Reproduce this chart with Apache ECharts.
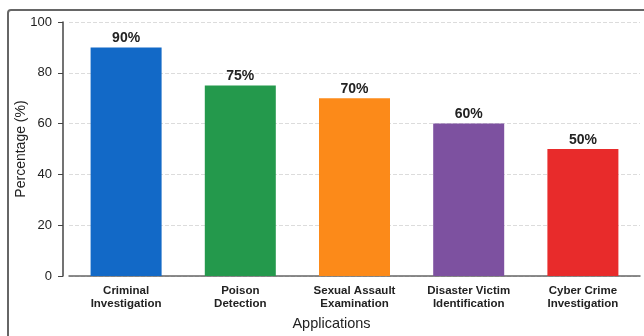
<!DOCTYPE html>
<html>
<head>
<meta charset="utf-8">
<script src="https://cdn.jsdelivr.net/npm/echarts@6/dist/echarts.min.js"></script>
<style>
html,body{margin:0;padding:0;background:#fff;}
#wrap{position:relative;width:644px;height:336px;overflow:hidden;}
#frame{position:absolute;left:7px;top:9px;width:700px;height:400px;border:2px solid #666;border-radius:4px;box-sizing:border-box;}
#chart{position:absolute;left:0;top:0;width:644px;height:336px;}
</style>
</head>
<body>
<div id="wrap"><div id="frame"></div><div id="chart"></div></div>
<script>
const categories = ['Criminal\nInvestigation','Poison\nDetection','Sexual Assault\nExamination','Disaster Victim\nIdentification','Cyber Crime\nInvestigation'];
const values = [90, 75, 70, 60, 50];
const colors = ['#1269c7','#24994c','#fc8a19','#7d51a0','#e82b2b'];
const yTicks = [0, 20, 40, 60, 80, 100];

const chart = echarts.init(document.getElementById('chart'), null, {renderer:'canvas'});
const font = 'Arial, "Liberation Sans", sans-serif';
chart.setOption({
  animation:false,
  textStyle:{fontFamily:font},
  grid:{left:69, right:4, top:22, bottom:59, containLabel:false},
  xAxis:{
    type:'category',
    data:categories,
    name:'Applications',
    nameLocation:'middle',
    nameGap:40,
    nameMoveOverlap:false,
    nameTextStyle:{fontSize:14.5, color:'#222', fontFamily:font, padding:[0,46,0,0]},
    axisLine:{lineStyle:{color:'#666', width:1.5}},
    axisTick:{show:false},
    axisLabel:{fontSize:11.5, color:'#222', fontWeight:'bold', lineHeight:13, margin:8, interval:0, fontFamily:font}
  },
  yAxis:{
    type:'value',
    min:0, max:100, interval:20,
    offset:6,
    name:'Percentage (%)',
    nameLocation:'middle',
    nameGap:35,
    nameMoveOverlap:false,
    nameTextStyle:{fontSize:14, color:'#222', fontFamily:font},
    axisLine:{show:true, lineStyle:{color:'#444', width:1.5}},
    axisTick:{show:true, length:5, lineStyle:{color:'#444'}},
    axisLabel:{fontSize:13, color:'#222', margin:11, fontFamily:font,
      formatter:function(v){return yTicks.indexOf(v)>=0 ? String(v) : '';}},
    splitLine:{show:true, lineStyle:{color:'#dcdcdc', type:'dashed', width:1}}
  },
  series:[{
    type:'bar',
    barWidth:71,
    data:values.map((v,i)=>({value:v, itemStyle:{color:colors[i]}})),
    label:{show:true, position:'top', distance:2, formatter:'{c}%', fontSize:14, fontWeight:'bold', color:'#222', fontFamily:font}
  }]
});
</script>
</body>
</html>
